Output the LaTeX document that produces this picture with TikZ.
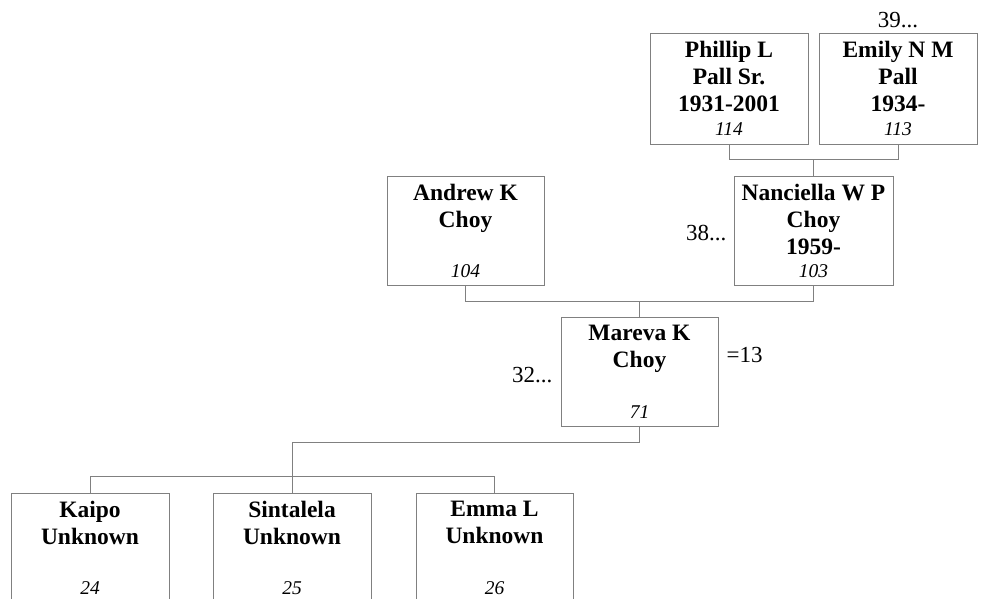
\documentclass[tikz,border=0pt]{standalone}
\usepackage{fontspec}
\setmainfont{Liberation Serif}
\usetikzlibrary{calc}
\definecolor{linegray}{RGB}{128,128,128}
\begin{document}
\begin{tikzpicture}[x=1pt,y=-1pt,
  person/.style={draw=linegray, line width=1pt, minimum width=158pt, minimum height=109pt, inner sep=0pt},
  pname/.style={font=\bfseries\fontsize{23.5}{27}\selectfont, align=center, anchor=north, inner sep=0pt},
  pnum/.style={font=\itshape\fontsize{19.5}{22}\selectfont, anchor=base, inner sep=0pt},
  side/.style={font=\fontsize{23}{26}\selectfont, inner sep=0pt},
  conn/.style={draw=linegray, line width=1pt}]
\useasboundingbox (0,0) rectangle (982,598);
\clip (0,0) rectangle (982,598);

% boxes
\node[person, minimum height=111pt] (phillip) at (729,88.5) {};
\node[person, minimum height=111pt] (emily) at (898,88.5) {};
\node[person, minimum width=157pt] (andrew) at (465.5,230.5) {};
\node[person, minimum width=159pt] (nanciella) at (813.5,230.5) {};
\node[person, minimum width=157pt] (mareva) at (639.5,371.5) {};
\node[person] (kaipo) at (90,547.5) {};
\node[person] (sintalela) at (292,547.5) {};
\node[person, minimum width=157pt] (emma) at (494.5,547.5) {};

% texts
\node[pname] (phillipN) at ([yshift=-8pt]phillip.north) {Phillip L\\Pall Sr.\\1931-2001};
\node[pnum] (phillipI) at ([yshift=9pt]phillip.south) {114};
\node[pname] (emilyN) at ([yshift=-8pt]emily.north) {Emily N M\\Pall\\1934-};
\node[pnum] (emilyI) at ([yshift=9pt]emily.south) {113};
\node[pname] (andrewN) at ([yshift=-8pt]andrew.north) {Andrew K\\Choy};
\node[pnum] (andrewI) at ([yshift=8pt]andrew.south) {104};
\node[pname] (nanciellaN) at ([yshift=-8pt]nanciella.north) {Nanciella W P\\Choy\\1959-};
\node[pnum] (nanciellaI) at ([yshift=8pt]nanciella.south) {103};
\node[pname] (marevaN) at ([yshift=-8pt]mareva.north) {Mareva K\\Choy};
\node[pnum] (marevaI) at ([yshift=8pt]mareva.south) {71};
\node[pname] (kaipoN) at ([yshift=-8pt]kaipo.north) {Kaipo\\Unknown};
\node[pnum] (kaipoI) at ([yshift=8pt]kaipo.south) {24};
\node[pname] (sintalelaN) at ([yshift=-8pt]sintalela.north) {Sintalela\\Unknown};
\node[pnum] (sintalelaI) at ([yshift=8pt]sintalela.south) {25};
\node[pname] (emmaN) at ([yshift=-8pt]emma.north) {Emma L\\Unknown};
\node[pnum] (emmaI) at ([yshift=8pt]emma.south) {26};

% side labels
\node[side, anchor=base] (l39) at ([yshift=5pt]emily.north) {39...};
\node[side, anchor=base east] (l38) at ([xshift=-7pt,yshift=-9.5pt]nanciella.west) {38...};
\node[side, anchor=base east] (l32) at ([xshift=-8pt,yshift=-10.5pt]mareva.west) {32...};
\node[side, anchor=base west] (l13) at ([xshift=8pt,yshift=-46pt]mareva.north east) {=13};

% connectors
\draw[conn] (phillip.south) -- ++(0,15) -| (emily.south);
\coordinate (pmid) at ($(phillip.south)!0.5!(emily.south)+(0,15)$);
\draw[conn] (pmid) -- (pmid |- nanciella.north);

\draw[conn] (andrew.south) -- ++(0,16) -| (nanciella.south);
\coordinate (amid) at ($(andrew.south)!0.5!(nanciella.south)+(0,16)$);
\draw[conn] (amid) -- (amid |- mareva.north);

\draw[conn] (mareva.south) -- ++(0,16) -| (sintalela.north);
\draw[conn] (kaipo.north) -- ++(0,-16) -| (emma.north);
\end{tikzpicture}
\end{document}
